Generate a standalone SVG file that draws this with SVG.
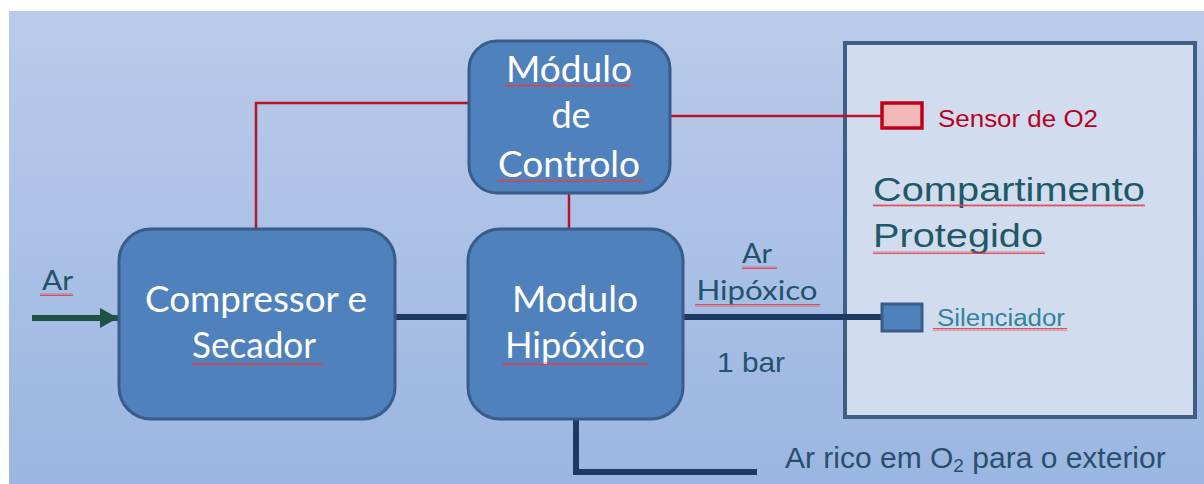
<svg xmlns="http://www.w3.org/2000/svg" width="1204" height="484" viewBox="0 0 1204 484">
  <defs>
    <linearGradient id="bg" x1="0" y1="0" x2="0" y2="1">
      <stop offset="0" stop-color="#BACBEA"/>
      <stop offset="1" stop-color="#9BB6E2"/>
    </linearGradient>
    <pattern id="sq" width="4" height="3" patternUnits="userSpaceOnUse">
      <path d="M0,2.5 L1,0.5 L2,2.5 L3,0.5 L4,2.5" fill="none" stroke="#E0404A" stroke-width="0.9"/>
    </pattern>
    <marker id="ah" viewBox="0 0 9 10" refX="9" refY="5" markerWidth="3" markerHeight="3.4" markerUnits="strokeWidth" orient="auto">
      <path d="M0,0 L9,5 L0,10 Z" fill="#1F5244"/>
    </marker>
  </defs>
  <style>
    .box { fill: #4F81BD; stroke: #385D8A; stroke-width: 3; }
    .btxt { font-family: Lato, "Open Sans", sans-serif; font-size: 36px; fill: #FFFFFF; text-anchor: middle; }
    .lbl { font-family: Lato, "Open Sans", sans-serif; font-size: 27px; fill: #23536A; }
    .arial { font-family: "Liberation Sans", Arial, sans-serif; }
    .red { fill: none; stroke: #B8142A; stroke-width: 2.5; }
    .navy { fill: none; stroke: #1F3A62; stroke-width: 6; }
    .sq { fill: url(#sq); }
  </style>

  <rect x="9" y="11" width="1195" height="473" fill="url(#bg)"/>

  <g id="compartimento">
    <rect x="845" y="43" width="350" height="374" fill="#D1DDEE" stroke="#3F5E86" stroke-width="4"/>
    <text class="arial" x="873" y="201" font-size="34" fill="#215868" textLength="272" lengthAdjust="spacingAndGlyphs">Compartimento</text>
    <text class="arial" x="873" y="247" font-size="34" fill="#215868" textLength="170" lengthAdjust="spacingAndGlyphs">Protegido</text>
  </g>

  <g id="connectors">
    <path class="red" d="M256,228 V103 H482"/>
    <path class="red" d="M657,116 H882"/>
    <path class="red" d="M569,193 V228"/>
    <path class="navy" d="M395,317 H468"/>
    <path class="navy" d="M683,317 H882"/>
    <path class="navy" d="M576,419 V472 H757"/>
    <path d="M32,318 H118" fill="none" stroke="#1F5244" stroke-width="6" marker-end="url(#ah)"/>
  </g>

  <g id="compressor">
    <rect class="box" x="119" y="229" width="276" height="190" rx="32"/>
    <text class="btxt" x="256" y="312" textLength="222" lengthAdjust="spacingAndGlyphs">Compressor e</text>
    <text class="btxt" x="254" y="358" textLength="124" lengthAdjust="spacingAndGlyphs">Secador</text>
  </g>

  <g id="modulo-hipoxico">
    <rect class="box" x="468" y="229" width="215" height="190" rx="32"/>
    <text class="btxt" x="575" y="312" textLength="126" lengthAdjust="spacingAndGlyphs">Modulo</text>
    <text class="btxt" x="575" y="358" textLength="140" lengthAdjust="spacingAndGlyphs">Hipóxico</text>
  </g>

  <g id="modulo-controlo">
    <rect class="box" x="469" y="41" width="201" height="152" rx="28"/>
    <text class="btxt" x="569" y="82" textLength="126" lengthAdjust="spacingAndGlyphs">Módulo</text>
    <text class="btxt" x="571" y="128">de</text>
    <text class="btxt" x="569" y="177" textLength="142" lengthAdjust="spacingAndGlyphs">Controlo</text>
  </g>

  <g id="sensor">
    <rect x="882" y="103" width="40" height="25" fill="#F2B8B8" stroke="#C00018" stroke-width="3.5"/>
    <text class="arial" x="938" y="127" font-size="24" fill="#B8001F" textLength="160" lengthAdjust="spacingAndGlyphs">Sensor de O2</text>
  </g>

  <g id="silenciador">
    <rect x="882" y="304" width="40" height="27" fill="#4F81BD" stroke="#385D8A" stroke-width="3"/>
    <text class="arial" x="937" y="326" font-size="23" fill="#31849B" textLength="128" lengthAdjust="spacingAndGlyphs">Silenciador</text>
  </g>

  <g id="labels">
    <text class="lbl" x="42" y="290" textLength="31" lengthAdjust="spacingAndGlyphs">Ar</text>
    <text class="lbl" x="757" y="263" text-anchor="middle" textLength="30" lengthAdjust="spacingAndGlyphs">Ar</text>
    <text class="lbl" x="757" y="300" text-anchor="middle" textLength="121" lengthAdjust="spacingAndGlyphs">Hipóxico</text>
    <text class="arial" x="717" y="372" font-size="28" fill="#23536A" textLength="68" lengthAdjust="spacingAndGlyphs">1 bar</text>
    <text class="arial" x="785" y="468" font-size="30" fill="#2A4F6E">Ar rico em O<tspan font-size="19" dy="4">2</tspan><tspan dy="-4"> para o exterior</tspan></text>
  </g>

  <g id="squiggles">
    <rect class="sq" x="40" y="293" width="33" height="3"/>
    <rect class="sq" x="192" y="362" width="131" height="3"/>
    <rect class="sq" x="505" y="84" width="128" height="3"/>
    <rect class="sq" x="498" y="179" width="145" height="3"/>
    <rect class="sq" x="502" y="362" width="146" height="3"/>
    <rect class="sq" x="742" y="266" width="35" height="3"/>
    <rect class="sq" x="695" y="304" width="125" height="3"/>
    <rect class="sq" x="873" y="204" width="272" height="3"/>
    <rect class="sq" x="873" y="251" width="172" height="3"/>
    <rect class="sq" x="933" y="328" width="134" height="3"/>
  </g>
</svg>
